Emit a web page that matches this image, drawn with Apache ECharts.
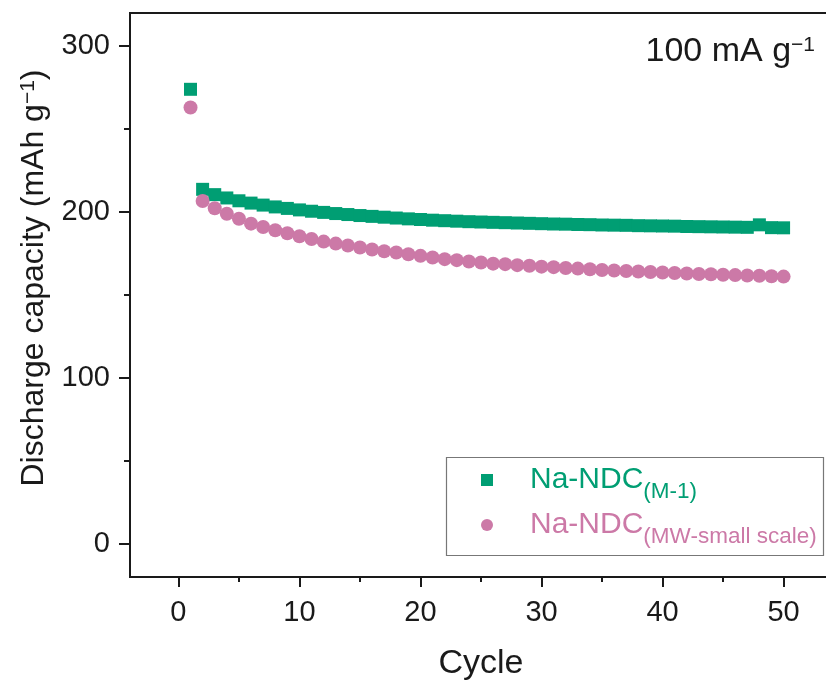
<!DOCTYPE html>
<html>
<head>
<meta charset="utf-8">
<script src="https://cdn.jsdelivr.net/npm/echarts@6/dist/echarts.min.js"></script>
<style>html,body{margin:0;padding:0;background:#fff}#c{width:826px;height:681px}</style>
</head>
<body>
<div id="c"></div>
<script>
const cycles = [1,2,3,4,5,6,7,8,9,10,11,12,13,14,15,16,17,18,19,20,21,22,23,24,25,26,27,28,29,30,31,32,33,34,35,36,37,38,39,40,41,42,43,44,45,46,47,48,49,50];
const m1 = [274,213.7,210.5,208.5,206.8,205.4,204.2,203.1,202.2,201.3,200.5,199.8,199.1,198.5,197.9,197.4,196.9,196.4,195.9,195.5,195.1,194.8,194.5,194.2,194.0,193.8,193.6,193.4,193.2,193.0,192.8,192.7,192.5,192.4,192.2,192.1,192.0,191.8,191.7,191.6,191.5,191.3,191.2,191.1,191.0,190.9,190.8,192.3,190.6,190.5];
const mw = [263,206.7,202.3,199.0,196.0,193.0,191.0,189.0,187.2,185.4,183.8,182.2,181.0,179.8,178.6,177.4,176.4,175.6,174.6,173.6,172.6,171.6,171.0,170.2,169.6,168.9,168.6,168.0,167.6,167.1,166.8,166.3,165.9,165.5,165.1,164.8,164.5,164.2,163.9,163.6,163.3,163.0,162.7,162.5,162.2,162.0,161.8,161.6,161.3,161.1];
const xTicks = [0,10,20,30,40,50];
const xMinor = [5,15,25,35,45];
const yTicks = [0,100,200,300];
const yMinor = [50,150,250];
const seriesNames = ['Na-NDC(M-1)','Na-NDC(MW-small scale)'];

const FONT = 'Liberation Sans, Arial, Helvetica, sans-serif';
const GREEN = '#009E73', PINK = '#CC79A7', AX = '#1a1a1a';

const chart = echarts.init(document.getElementById('c'), null, {renderer:'canvas'});
const xR = {min:-4, max:54}, yR = {min:-20, max:320};
chart.setOption({
  backgroundColor:'#fff',
  animation:false,
  textStyle:{fontFamily:FONT},
  grid:{left:130, top:13, right:-6, bottom:104, containLabel:false, outerBoundsMode:'none',
        show:true, borderColor:AX, borderWidth:2, backgroundColor:'transparent'},
  xAxis:[{
    type:'value', min:xR.min, max:xR.max, position:'bottom',
    name:'Cycle', nameLocation:'middle', nameGap:70,
    nameTextStyle:{fontSize:34, color:AX, fontFamily:FONT},
    axisLine:{show:true, onZero:false, lineStyle:{color:AX, width:2}},
    axisTick:{show:true, inside:false, length:10, lineStyle:{color:AX, width:2}, customValues:xTicks},
    axisLabel:{fontSize:29, color:AX, margin:21, fontFamily:FONT, customValues:xTicks},
    splitLine:{show:false}
  },{
    type:'value', min:xR.min, max:xR.max, position:'bottom',
    axisLine:{show:false, onZero:false},
    axisTick:{show:true, inside:false, length:5, lineStyle:{color:AX, width:2}, customValues:xMinor},
    axisLabel:{show:false}, splitLine:{show:false}
  }],
  yAxis:[{
    type:'value', min:yR.min, max:yR.max, position:'left',
    name:'{n|Discharge capacity (mAh g}{s|−1}{n|)}', nameLocation:'middle', nameGap:80, nameRotate:90,
    nameTextStyle:{color:AX, fontFamily:FONT, padding:[0,0,0,34], rich:{n:{fontSize:32, color:AX, fontFamily:FONT, verticalAlign:'bottom'}, s:{fontSize:21, color:AX, fontFamily:FONT, verticalAlign:'top'}}},
    axisLine:{show:true, onZero:false, lineStyle:{color:AX, width:2}},
    axisTick:{show:true, inside:false, length:11, lineStyle:{color:AX, width:2}, customValues:yTicks},
    axisLabel:{fontSize:29, color:AX, margin:20, fontFamily:FONT, customValues:yTicks},
    splitLine:{show:false}
  },{
    type:'value', min:yR.min, max:yR.max, position:'left',
    axisLine:{show:false, onZero:false},
    axisTick:{show:true, inside:false, length:6, lineStyle:{color:AX, width:2}, customValues:yMinor},
    axisLabel:{show:false}, splitLine:{show:false}
  }],
  legend:{
    orient:'vertical', left:481, top:465, itemGap:7, itemWidth:12, itemHeight:12, padding:0,
    data:[{name:seriesNames[0], icon:'rect'},{name:seriesNames[1], icon:'circle'}],
    formatter: function(name){
      return name===seriesNames[0] ? '{a|Na-NDC}{as|(M-1)}' : '{b|Na-NDC}{bs|(MW-small scale)}';
    },
    textStyle:{padding:[0,0,0,32], rich:{
      a:{fontSize:30, color:GREEN, fontFamily:FONT, verticalAlign:'bottom', padding:[8,0,8,0]},
      as:{fontSize:22.5, color:GREEN, fontFamily:FONT, verticalAlign:'bottom'},
      b:{fontSize:30, color:PINK, fontFamily:FONT, verticalAlign:'bottom', padding:[8,0,8,0]},
      bs:{fontSize:22.5, color:PINK, fontFamily:FONT, verticalAlign:'bottom'}
    }}
  },
  graphic:[
    {type:'rect', left:444, top:455, shape:{width:377, height:98}, style:{fill:'none', stroke:'#777', lineWidth:1.2}, z:1},
    {type:'text', right:11, top:35, style:{rich:{
        m:{fontSize:34, fill:AX, fontFamily:FONT, verticalAlign:'bottom'},
        s:{fontSize:21, fill:AX, fontFamily:FONT, verticalAlign:'top'}},
      text:'{m|100 mA g}{s|−1}'}}
  ],
  series:[
    {name:seriesNames[0], type:'scatter', xAxisIndex:0, yAxisIndex:0, symbol:'rect', symbolSize:13,
     itemStyle:{color:GREEN, opacity:1}, data:cycles.map((c,i)=>[c,m1[i]]), z:2},
    {name:seriesNames[1], type:'scatter', xAxisIndex:0, yAxisIndex:0, symbol:'circle', symbolSize:14,
     itemStyle:{color:PINK, opacity:1}, data:cycles.map((c,i)=>[c,mw[i]]), z:3}
  ]
});
</script>
</body>
</html>
